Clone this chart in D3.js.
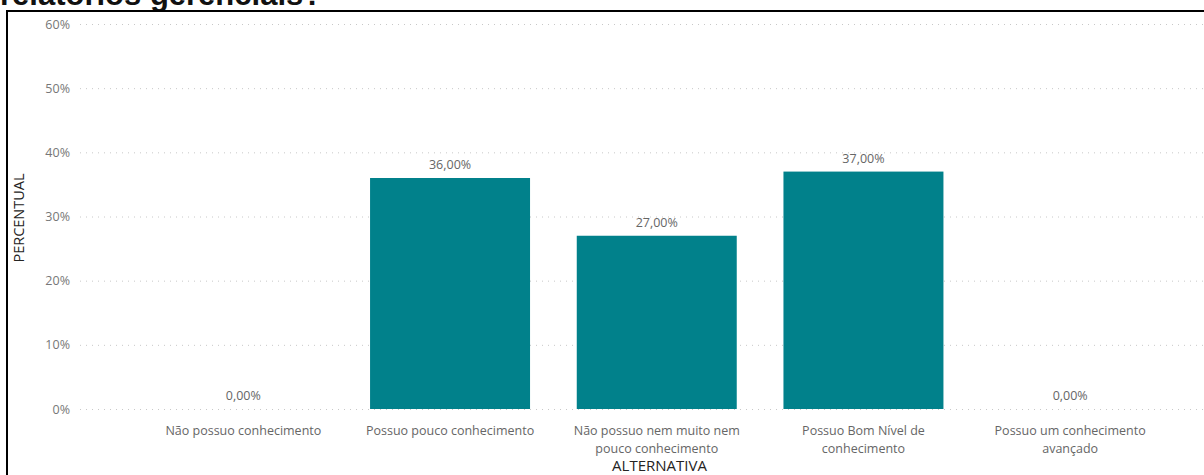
<!DOCTYPE html>
<html>
<head>
<meta charset="utf-8">
<title>PERCENTUAL por ALTERNATIVA</title>
<style>
  body{margin:0;background:#fff;overflow:hidden;}
  svg text{font-family:"Open Sans","Segoe UI",sans-serif;}
</style>
</head>
<body>
<div id="container"></div>
<script src="https://cdn.jsdelivr.net/npm/d3@7"></script>
<script>
  // data
  var categories = [
    ["Não possuo conhecimento"],
    ["Possuo pouco conhecimento"],
    ["Não possuo nem muito nem", "pouco conhecimento"],
    ["Possuo Bom Nível de", "conhecimento"],
    ["Possuo um conhecimento", "avançado"]
  ];
  var values = [0, 36, 27, 37, 0];
  var yTicks = [0, 10, 20, 30, 40, 50, 60];
  var titleText = "relatórios gerenciais?";
  var xTitle = "ALTERNATIVA";
  var yTitle = "PERCENTUAL";

  var W = 1204, H = 475;
  var svg = d3.select("#container").append("svg")
      .attr("width", W)
      .attr("height", H);

  // cut-off question title above the frame
  svg.append("text")
    .attr("x", 0)
    .attr("y", 5)
    .style("font-family", "'Liberation Sans', Arial, sans-serif")
    .style("font-weight", "700")
    .style("font-size", "31px")
    .attr("fill", "#111")
    .text(titleText);

  // black frame of the visual
  svg.append("rect")
    .attr("x", 7).attr("y", 11)
    .attr("width", W + 20).attr("height", H + 20)
    .attr("fill", "#fff")
    .attr("stroke", "#000")
    .attr("stroke-width", 2);

  var keys = categories.map(function(d, i){ return "c" + i; });

  var xScale = d3.scaleBand()
    .domain(keys)
    .range([140, 1173.5])
    .paddingInner(0.226)
    .paddingOuter(0.113);

  var yScale = d3.scaleLinear().domain([0, 60]).range([409, 24]);

  // gridlines + y labels
  var yAxis = d3.axisLeft(yScale)
    .tickValues(yTicks)
    .tickSize(-(1204 - 80))
    .tickPadding(10)
    .tickFormat(function(d){ return d + "%"; });

  var gy = svg.append("g")
    .attr("transform", "translate(80,0)")
    .call(yAxis);
  gy.select(".domain").remove();
  gy.selectAll(".tick line")
    .attr("stroke", "#c8c8c8")
    .attr("stroke-width", 1)
    .attr("stroke-dasharray", "1,5");
  gy.selectAll(".tick text")
    .attr("fill", "#777")
    .style("font-size", "12.5px");

  // bars
  svg.append("g").selectAll("rect")
    .data(values)
    .enter().append("rect")
    .attr("x", function(d, i){ return xScale(keys[i]); })
    .attr("y", function(d){ return yScale(d); })
    .attr("width", xScale.bandwidth())
    .attr("height", function(d){ return yScale(0) - yScale(d); })
    .attr("fill", "#01818b");

  // data labels
  svg.append("g").selectAll("text")
    .data(values)
    .enter().append("text")
    .attr("x", function(d, i){ return xScale(keys[i]) + xScale.bandwidth() / 2; })
    .attr("y", function(d){ return yScale(d) - 9; })
    .attr("text-anchor", "middle")
    .attr("fill", "#666")
    .style("font-size", "12.5px")
    .text(function(d){ return d3.format(".2f")(d).replace(".", ",") + "%"; });

  // x category labels
  var xAxis = d3.axisBottom(xScale).tickSize(0).tickFormat("");
  var gx = svg.append("g")
    .attr("transform", "translate(0," + yScale(0) + ")")
    .call(xAxis);
  gx.select(".domain").remove();
  gx.selectAll(".tick").each(function(k, i){
    var t = d3.select(this).append("text")
      .attr("text-anchor", "middle")
      .attr("fill", "#666")
      .style("font-size", "12.5px");
    categories[i].forEach(function(line, j){
      t.append("tspan")
        .attr("x", 0)
        .attr("y", 26 + j * 18)
        .text(line);
    });
  });

  // axis titles
  svg.append("text")
    .attr("x", 659.5)
    .attr("y", 471)
    .attr("text-anchor", "middle")
    .attr("fill", "#252423")
    .style("font-size", "15px")
    .text(xTitle);

  svg.append("text")
    .attr("transform", "translate(24,218) rotate(-90)")
    .attr("text-anchor", "middle")
    .attr("fill", "#252423")
    .style("font-size", "14.5px")
    .text(yTitle);
</script>
</body>
</html>
